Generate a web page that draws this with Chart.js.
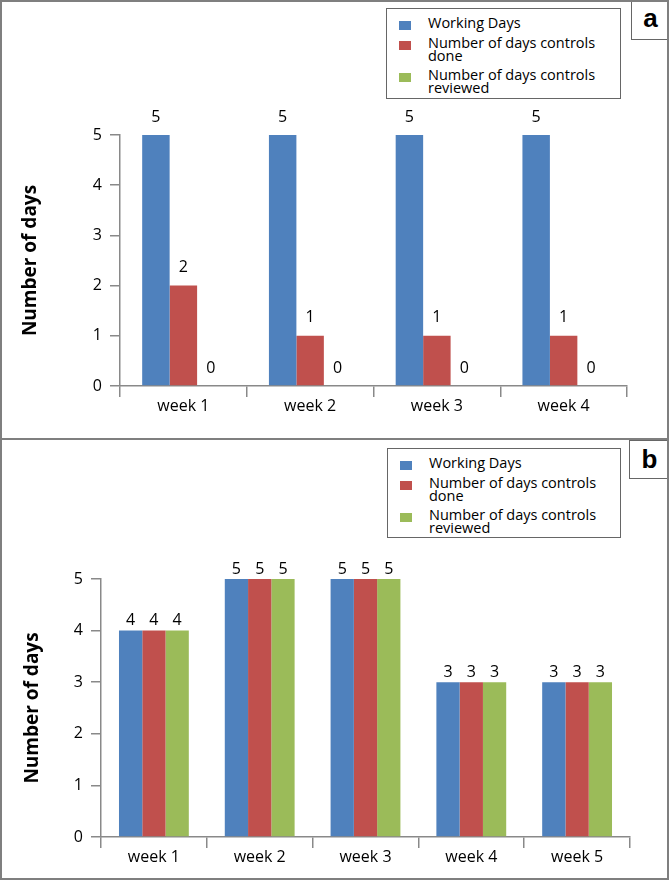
<!DOCTYPE html>
<html>
<head>
<meta charset="utf-8">
<script src="https://cdn.jsdelivr.net/npm/chart.js@4.4.1/dist/chart.umd.min.js"></script>
<style>
  html, body { margin: 0; padding: 0; background: #fff; }
  #page { position: relative; width: 669px; height: 880px; overflow: hidden; font-family: 'Open Sans', sans-serif; }
  .frame { position: absolute; left: 0; top: 0; width: 669px; height: 880px; box-sizing: border-box; border: 2px solid #7f7f7f; pointer-events: none; }
  .divider { position: absolute; left: 0; top: 438px; width: 669px; height: 2px; background: #7f7f7f; }
  .panel { position: absolute; left: 0; width: 669px; height: 438px; }
  .panel canvas { position: absolute; left: 0; top: 0; }
  .legend { position: absolute; box-sizing: border-box; border: 1px solid #666; background: #fff; padding: 7px 0 0 0; }
  .legend .item { display: flex; align-items: flex-start; margin-bottom: 6px; }
  .legend .sw { width: 12px; height: 9px; margin: 5px 0 0 12px; flex: none; }
  .legend .txt { margin-left: 17px; width: 180px; font-size: 14.5px; line-height: 12.5px; color: #000; padding-top: 1px; }
  .tag { position: absolute; box-sizing: border-box; border: 1.5px solid #666; border-right: none; background: #fff;
         font-family: 'Liberation Sans', Arial, sans-serif; font-weight: bold; font-size: 26px; text-align: center; }
</style>
</head>
<body>
<div id="page">
  <div class="panel" style="top:0"><canvas id="chartA" width="669" height="438"></canvas></div>
  <div class="panel" style="top:440px"><canvas id="chartB" width="669" height="438"></canvas></div>
  <div class="legend" id="legendA" style="left:386px; top:8px; width:235px; height:91px"></div>
  <div class="legend" id="legendB" style="left:387px; top:448px; width:234px; height:90px"></div>
  <div class="tag" style="left:631px; top:0; width:38px; height:40px; line-height:34px">a</div>
  <div class="tag" style="left:629px; top:440px; width:40px; height:39px; line-height:36px">b</div>
  <div class="divider"></div>
  <div class="frame"></div>
</div>
<script>
// series names and colours shared by both panels
const seriesNames  = ['Working Days', 'Number of days controls done', 'Number of days controls reviewed'];
const seriesColors = ['#4f81bd', '#c0504d', '#9bbb59'];

// panel a
const weeksA     = ['week 1', 'week 2', 'week 3', 'week 4'];
const workingA   = [5, 5, 5, 5];
const doneA      = [2, 1, 1, 1];
const reviewedA  = [0, 0, 0, 0];

// panel b
const weeksB     = ['week 1', 'week 2', 'week 3', 'week 4', 'week 5'];
const workingB   = [4, 5, 5, 3, 3];
const doneB      = [4, 5, 5, 3, 3];
const reviewedB  = [4, 5, 5, 3, 3];

const yTicks = [0, 1, 2, 3, 4, 5];

const axisColor  = '#898989';
const fontFamily = "'Open Sans', sans-serif";

Chart.defaults.font.family = fontFamily;
Chart.defaults.color = '#000';

// Draws the value of each bar above it (Excel style "outside end")
const valueLabels = {
    id: 'valueLabels',
    afterDatasetsDraw(chart, args, opts) {
        const ctx = chart.ctx;
        ctx.save();
        ctx.font = `16px ${fontFamily}`;
        ctx.fillStyle = '#000';
        ctx.textAlign = 'center';
        ctx.textBaseline = 'middle';
        chart.data.datasets.forEach((ds, i) => {
            chart.getDatasetMeta(i).data.forEach((bar, j) => {
                ctx.fillText(String(ds.data[j]), bar.x, bar.y - opts.offset);
            });
        });
        ctx.restore();
    }
};

function buildLegend(el) {
    seriesNames.forEach((name, i) => {
        const item = document.createElement('div');
        item.className = 'item';
        const sw = document.createElement('div');
        sw.className = 'sw';
        sw.style.background = seriesColors[i];
        const txt = document.createElement('div');
        txt.className = 'txt';
        txt.textContent = name;
        item.appendChild(sw);
        item.appendChild(txt);
        el.appendChild(item);
    });
}

function makeChart(id, labels, series, geo) {
    return new Chart(document.getElementById(id), {
        type: 'bar',
        data: {
            labels,
            datasets: series.map((data, i) => ({
                label: seriesNames[i],
                data,
                backgroundColor: seriesColors[i],
                borderWidth: 0,
                categoryPercentage: geo.catPct,
                barPercentage: 1.0
            }))
        },
        plugins: [valueLabels],
        options: {
            responsive: false,
            animation: false,
            layout: { padding: { top: geo.top, right: geo.right, left: 0, bottom: 0 } },
            plugins: {
                legend: { display: false },
                tooltip: { enabled: false },
                valueLabels: { offset: geo.labelOffset }
            },
            scales: {
                x: {
                    grid: { drawOnChartArea: false, drawTicks: true, tickLength: 11, color: axisColor, lineWidth: 1.5, offset: true },
                    border: { color: axisColor, width: 1.5 },
                    ticks: { font: { size: 16 }, color: '#000', padding: 0 },
                    afterFit: s => { s.height = geo.xHeight; }
                },
                y: {
                    min: 0,
                    max: 5,
                    afterBuildTicks: s => { s.ticks = yTicks.map(v => ({ value: v })); },
                    grid: { drawOnChartArea: false, drawTicks: true, tickLength: 10, color: axisColor, lineWidth: 1.5 },
                    border: { color: axisColor, width: 1.5 },
                    ticks: { font: { size: 16 }, color: '#000', padding: 8 },
                    title: {
                        display: true,
                        text: 'Number of days',
                        font: { size: 19, weight: 'bold' },
                        color: '#000',
                        padding: { top: geo.titlePad, bottom: 0 }
                    },
                    afterFit: s => { s.width = geo.yWidth; }
                }
            }
        }
    });
}

makeChart('chartA', weeksA, [workingA, doneA, reviewedA],
    { top: 135, right: 42, xHeight: 52, yWidth: 120, catPct: 0.65, labelOffset: 18, titlePad: 19 });
makeChart('chartB', weeksB, [workingB, doneB, reviewedB],
    { top: 139, right: 39, xHeight: 41, yWidth: 101, catPct: 0.66, labelOffset: 10, titlePad: 21 });

buildLegend(document.getElementById('legendA'));
buildLegend(document.getElementById('legendB'));
</script>
</body>
</html>
